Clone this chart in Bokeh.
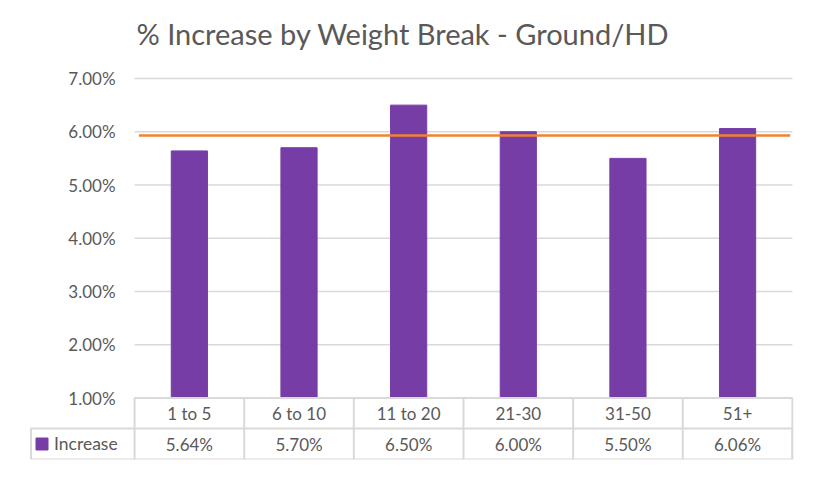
from bokeh.plotting import figure
from bokeh.models import (Range1d, FixedTicker, PrintfTickFormatter, Legend, LegendItem,
                          ColumnDataSource)
from bokeh.core.properties import value
from bokeh.embed import file_html
from bokeh.resources import INLINE

# ---------------- data ----------------
title_text = "% Increase by Weight Break - Ground/HD"
categories = ["1 to 5", "6 to 10", "11 to 20", "21-30", "31-50", "51+"]
increase = [5.64, 5.70, 6.50, 6.00, 5.50, 6.06]
increase_labels = ["5.64%", "5.70%", "6.50%", "6.00%", "5.50%", "6.06%"]
series_name = "Increase"
average_line = 5.93
y_ticks = [1, 2, 3, 4, 5, 6, 7]

# ---------------- styles ----------------
FONT = "Lato"
TEXT = "#595959"
GRID = "#d9d9d9"
PURPLE = "#763DA7"
ORANGE = "#F0832F"

W, H = 821, 483
COL = 109.6                     # pixels per category column
PLOT_LEFT = 134                 # pixel where the category area starts
FRAME_LEFT = 29                 # frame starts at the legend-key cell
MB_TOP, MB_BOTTOM = 66, 24
frame_h = H - MB_TOP - MB_BOTTOM
K = 53.25                       # pixels per 1 %
y_end = 7 + 12.0 / K
y_start = y_end - frame_h / K
base = 1.0                      # axis floor (1.00%)
row_mid = base - 30.5 / K       # boundary between table rows
row_bot = base - 61.5 / K       # bottom of table
row1_y = base - 15.0 / K
row2_y = base - 46.0 / K

n = len(categories)
xs = [i + 0.5 for i in range(n)]
x_start = -(PLOT_LEFT - FRAME_LEFT) / COL
x_end = n + 0.01
frame_w = (x_end - x_start) * COL
MB_LEFT = FRAME_LEFT
MB_RIGHT = int(round(W - FRAME_LEFT - frame_w))
cell_x = x_start + 1.5 / COL

p = figure(width=W, height=H, output_backend="svg", toolbar_location=None,
           x_range=Range1d(x_start, x_end), y_range=Range1d(y_start, y_end),
           x_axis_location=None, min_border_left=MB_LEFT, min_border_right=MB_RIGHT,
           min_border_top=MB_TOP, min_border_bottom=MB_BOTTOM)
p.outline_line_color = None
p.background_fill_color = "white"
p.border_fill_color = "white"

# title
p.title.text = title_text
p.title.text_font = FONT
p.title.text_font_size = "29px"
p.title.text_font_style = "normal"
p.title.text_color = TEXT
p.title.align = "left"
p.title.vertical_align = "top"
p.title.offset = PLOT_LEFT - FRAME_LEFT + 2
p.title.standoff = 28

# y axis: drawn at a fixed x so that its labels sit left of the category area
AXIS_PX = 85
p.yaxis.fixed_location = (AXIS_PX - PLOT_LEFT) / COL
p.yaxis.ticker = FixedTicker(ticks=y_ticks)
p.yaxis.formatter = PrintfTickFormatter(format="%.2f%%")
p.yaxis.axis_line_color = None
p.yaxis.major_tick_line_color = None
p.yaxis.minor_tick_line_color = None
p.yaxis.major_tick_out = 0
p.yaxis.major_tick_in = 0
p.yaxis.major_label_standoff = AXIS_PX - 115
p.yaxis.major_label_text_font = FONT
p.yaxis.major_label_text_font_size = "17px"
p.yaxis.major_label_text_color = TEXT

p.xgrid.visible = False
p.ygrid.visible = False

# horizontal gridlines over the category area only
p.segment(x0=[0] * len(y_ticks), x1=[n] * len(y_ticks), y0=y_ticks, y1=y_ticks,
          line_color=GRID, line_width=1.6)

# bars
src = ColumnDataSource(dict(x=xs, top=increase, cat=categories, lab=increase_labels,
                            r1=[row1_y] * n, r2=[row2_y] * n))
bars = p.vbar(x="x", top="top", bottom=base, width=0.33, source=src,
              fill_color=PURPLE, line_color=PURPLE, line_width=1)

# average line
p.segment(x0=[0.04], x1=[n - 0.02], y0=[average_line], y1=[average_line],
          line_color=ORANGE, line_width=2.5)

# data table grid
p.segment(x0=[0] * (n + 1), x1=[n] * (n + 1), y0=[base], y1=[base],
          line_color=GRID, line_width=2)
p.segment(x0=list(range(n + 1)), x1=list(range(n + 1)), y0=[base] * (n + 1), y1=[row_bot] * (n + 1),
          line_color=GRID, line_width=2)
# rows including the legend-key cell
p.quad(left=[cell_x], right=[n], top=[row_mid], bottom=[row_bot],
       fill_alpha=0, line_color=GRID, line_width=2)

# table texts
p.text(x="x", y="r1", text="cat", source=src, text_align="center", text_baseline="middle",
       text_font=value(FONT), text_font_size="17px", text_color=TEXT)
p.text(x="x", y="r2", text="lab", source=src, text_align="center", text_baseline="middle",
       text_font=value(FONT), text_font_size="17px", text_color=TEXT)

# legend key inside the left table cell
legend = Legend(items=[LegendItem(label=series_name, renderers=[bars])],
                location=(5, 5), padding=0, margin=0, spacing=0,
                glyph_width=15, glyph_height=15, label_height=20, label_standoff=5,
                label_text_font=FONT, label_text_font_size="17.5px", label_text_color=TEXT,
                background_fill_alpha=0, border_line_alpha=0, click_policy="none")
p.add_layout(legend, "center")

open("out.html", "w").write(file_html(p, INLINE))
